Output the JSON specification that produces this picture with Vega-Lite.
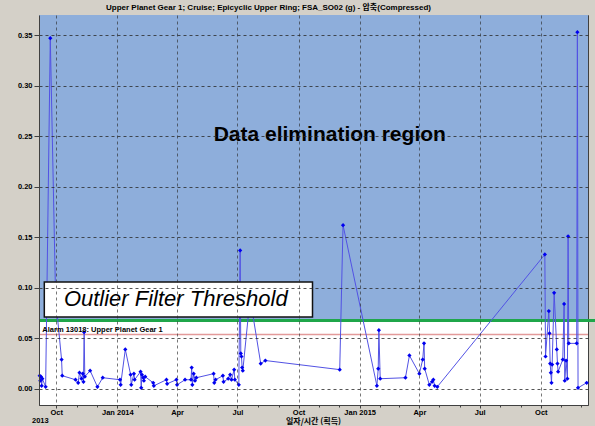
{
  "$schema": "https://vega.github.io/schema/vega-lite/v6.json",
  "width": 549,
  "height": 390,
  "autosize": {"type": "none"},
  "padding": {"left": 39, "top": 15, "right": 7, "bottom": 21},
  "background": "#d4d0c8",
  "title": {
    "text": "Upper Planet Gear 1;   Cruise;   Epicyclic Upper Ring;   FSA_SO02 (g) - 압축(Compressed)",
    "font": "Liberation Sans, Noto Sans CJK KR",
    "fontSize": 8,
    "fontWeight": "bold",
    "color": "#000000",
    "anchor": "middle",
    "dx": -45,
    "offset": 3
  },
  "config": {
    "view": {"fill": "#ffffff", "stroke": "#404040", "strokeWidth": 1},
    "axis": {
      "labelFont": "Liberation Sans",
      "labelFontSize": 7.5,
      "labelFontWeight": "bold",
      "labelColor": "#000000",
      "titleFont": "Noto Sans CJK KR",
      "titleFontSize": 8,
      "titleFontWeight": "bold",
      "titleColor": "#000000",
      "domainColor": "#404040",
      "tickColor": "#404040",
      "gridColor": "#2a2a2a",
      "gridDash": [3, 3],
      "gridWidth": 1,
      "gridOpacity": 0.8,
      "labelOverlap": false
    }
  },
  "datasets": {
    "series": [
      {"t": "2013-09-06", "v": 0.013},
      {"t": "2013-09-07", "v": 0.008},
      {"t": "2013-09-08", "v": 0.012},
      {"t": "2013-09-09", "v": 0.003},
      {"t": "2013-09-10", "v": 0.010},
      {"t": "2013-09-15", "v": 0.002},
      {"t": "2013-09-22", "v": 0.347},
      {"t": "2013-09-30", "v": 0.09},
      {"t": "2013-10-09", "v": 0.029},
      {"t": "2013-10-10", "v": 0.013},
      {"t": "2013-10-30", "v": 0.009},
      {"t": "2013-11-03", "v": 0.006},
      {"t": "2013-11-05", "v": 0.016},
      {"t": "2013-11-08", "v": 0.010},
      {"t": "2013-11-10", "v": 0.015},
      {"t": "2013-11-11", "v": 0.007},
      {"t": "2013-11-12", "v": 0.056},
      {"t": "2013-11-13", "v": 0.012},
      {"t": "2013-11-21", "v": 0.018},
      {"t": "2013-12-02", "v": 0.002},
      {"t": "2013-12-10", "v": 0.011},
      {"t": "2014-01-05", "v": 0.009},
      {"t": "2014-01-06", "v": 0.004},
      {"t": "2014-01-13", "v": 0.039},
      {"t": "2014-01-21", "v": 0.014},
      {"t": "2014-01-22", "v": 0.004},
      {"t": "2014-01-26", "v": 0.015},
      {"t": "2014-01-27", "v": 0.009},
      {"t": "2014-02-05", "v": 0.017},
      {"t": "2014-02-06", "v": 0.001},
      {"t": "2014-02-07", "v": 0.014},
      {"t": "2014-02-09", "v": 0.011},
      {"t": "2014-02-10", "v": 0.008},
      {"t": "2014-02-12", "v": 0.012},
      {"t": "2014-02-24", "v": 0.006},
      {"t": "2014-02-25", "v": 0.003},
      {"t": "2014-03-16", "v": 0.009},
      {"t": "2014-03-17", "v": 0.005},
      {"t": "2014-03-31", "v": 0.009},
      {"t": "2014-04-01", "v": 0.004},
      {"t": "2014-04-13", "v": 0.009},
      {"t": "2014-04-22", "v": 0.009},
      {"t": "2014-04-23", "v": 0.021},
      {"t": "2014-04-24", "v": 0.004},
      {"t": "2014-04-26", "v": 0.015},
      {"t": "2014-04-28", "v": 0.008},
      {"t": "2014-04-30", "v": 0.011},
      {"t": "2014-05-26", "v": 0.015},
      {"t": "2014-05-27", "v": 0.006},
      {"t": "2014-05-29", "v": 0.009},
      {"t": "2014-06-09", "v": 0.013},
      {"t": "2014-06-10", "v": 0.007},
      {"t": "2014-06-17", "v": 0.010},
      {"t": "2014-06-20", "v": 0.014},
      {"t": "2014-06-22", "v": 0.009},
      {"t": "2014-06-26", "v": 0.019},
      {"t": "2014-06-27", "v": 0.009},
      {"t": "2014-07-03", "v": 0.004},
      {"t": "2014-07-05", "v": 0.137},
      {"t": "2014-07-06", "v": 0.035},
      {"t": "2014-07-07", "v": 0.032},
      {"t": "2014-07-08", "v": 0.021},
      {"t": "2014-07-09", "v": 0.018},
      {"t": "2014-07-20", "v": 0.09},
      {"t": "2014-08-05", "v": 0.025},
      {"t": "2014-08-12", "v": 0.028},
      {"t": "2014-12-02", "v": 0.019},
      {"t": "2014-12-07", "v": 0.162},
      {"t": "2015-01-27", "v": 0.003},
      {"t": "2015-01-29", "v": 0.020},
      {"t": "2015-01-30", "v": 0.058},
      {"t": "2015-02-01", "v": 0.010},
      {"t": "2015-03-11", "v": 0.011},
      {"t": "2015-03-17", "v": 0.033},
      {"t": "2015-04-01", "v": 0.015},
      {"t": "2015-04-06", "v": 0.029},
      {"t": "2015-04-08", "v": 0.045},
      {"t": "2015-04-09", "v": 0.020},
      {"t": "2015-04-16", "v": 0.004},
      {"t": "2015-04-20", "v": 0.007},
      {"t": "2015-04-22", "v": 0.009},
      {"t": "2015-04-24", "v": 0.003},
      {"t": "2015-04-28", "v": 0.002},
      {"t": "2015-10-07", "v": 0.133},
      {"t": "2015-10-08", "v": 0.032},
      {"t": "2015-10-13", "v": 0.077},
      {"t": "2015-10-14", "v": 0.055},
      {"t": "2015-10-15", "v": 0.025},
      {"t": "2015-10-16", "v": 0.016},
      {"t": "2015-10-17", "v": 0.006},
      {"t": "2015-10-18", "v": 0.024},
      {"t": "2015-10-21", "v": 0.095},
      {"t": "2015-10-25", "v": 0.039},
      {"t": "2015-10-26", "v": 0.025},
      {"t": "2015-10-27", "v": 0.017},
      {"t": "2015-11-03", "v": 0.029},
      {"t": "2015-11-05", "v": 0.084},
      {"t": "2015-11-06", "v": 0.008},
      {"t": "2015-11-08", "v": 0.028},
      {"t": "2015-11-10", "v": 0.010},
      {"t": "2015-11-11", "v": 0.151},
      {"t": "2015-11-12", "v": 0.045},
      {"t": "2015-11-24", "v": 0.045},
      {"t": "2015-11-25", "v": 0.353},
      {"t": "2015-11-26", "v": 0.001},
      {"t": "2015-12-09", "v": 0.006}
    ]
  },
  "layer": [
    {
      "data": {"name": "series"},
      "mark": {"type": "point", "opacity": 0},
      "encoding": {
        "x": {
          "field": "t",
          "type": "temporal",
          "scale": {"domain": [{"year": 2013, "month": 9, "date": 5}, {"year": 2015, "month": 12, "date": 11}]},
          "title": "일자/시간 (획득)",
          "axis": {
            "zindex": 1,
            "tickCount": {"interval": "month", "step": 1},
            "labelExpr": "month(datum.value) % 3 == 0 ? (month(datum.value) == 0 ? 'Jan ' + year(datum.value) : timeFormat(datum.value, '%b')) : ''",
            "labelOverlap": false,
            "labelFlush": false,
            "labelPadding": 0,
            "titleBaseline": "alphabetic",
            "titleY": 18,
            "titleX": 274,
            "tickSize": {"condition": {"test": "month(datum.value) % 3 == 0", "value": 3}, "value": 2},
            "gridOpacity": {"condition": {"test": "month(datum.value) % 3 == 0", "value": 0.8}, "value": 0}
          }
        },
        "y": {
          "field": "v",
          "type": "quantitative",
          "scale": {"domain": [-0.016, 0.37], "nice": false, "zero": false},
          "title": null,
          "axis": {
            "zindex": 1,
            "values": [0, 0.05, 0.1, 0.15, 0.2, 0.25, 0.3, 0.35],
            "format": ".2f",
            "labelOverlap": false,
            "labelPadding": 2,
            "tickSize": 5
          }
        }
      }
    },
    {
      "data": {"values": [{}]},
      "mark": {"type": "rect", "color": "#8eaedb"},
      "encoding": {
        "x": {"datum": {"year": 2013, "month": 9, "date": 5}, "type": "temporal"},
        "x2": {"datum": {"year": 2015, "month": 12, "date": 11}},
        "y": {"datum": 0.0676, "type": "quantitative"},
        "y2": {"datum": 0.37}
      }
    },
    {
      "data": {"values": [{}]},
      "mark": {"type": "rule", "color": "#e39a9a", "strokeWidth": 1.5},
      "encoding": {"y": {"datum": 0.0537, "type": "quantitative"}}
    },
    {
      "data": {"values": [{}]},
      "mark": {"type": "rule", "color": "#1fa64a", "strokeWidth": 3},
      "encoding": {
        "y": {"datum": 0.0676, "type": "quantitative"},
        "x": {"datum": {"year": 2013, "month": 9, "date": 5}, "type": "temporal"},
        "x2": {"datum": {"year": 2015, "month": 12, "date": 22}}
      }
    },
    {
      "data": {"name": "series"},
      "mark": {
        "type": "line",
        "color": "#5252e4",
        "strokeWidth": 1,
        "point": {"shape": "diamond", "filled": true, "size": 18, "color": "#0000f0"}
      },
      "encoding": {
        "x": {"field": "t", "type": "temporal"},
        "y": {"field": "v", "type": "quantitative"}
      }
    },
    {
      "data": {"values": [{}]},
      "mark": {"type": "text", "text": "Alarm 13018: Upper Planet Gear 1", "align": "left", "baseline": "middle", "font": "Liberation Sans", "fontSize": 7.5, "fontWeight": "bold", "color": "#000000"},
      "encoding": {
        "x": {"datum": {"year": 2013, "month": 9, "date": 10}, "type": "temporal"},
        "y": {"datum": 0.0585, "type": "quantitative"}
      }
    },
    {
      "data": {"values": [{}]},
      "mark": {"type": "rect", "fill": "#ffffff", "stroke": "#111111", "strokeWidth": 1.5},
      "encoding": {
        "x": {"datum": {"year": 2013, "month": 9, "date": 13}, "type": "temporal"},
        "x2": {"datum": {"year": 2014, "month": 10, "date": 22}},
        "y": {"datum": 0.0712, "type": "quantitative"},
        "y2": {"datum": 0.1058}
      }
    },
    {
      "data": {"values": [{}]},
      "mark": {"type": "text", "text": "Outlier Filter Threshold", "align": "center", "baseline": "middle", "font": "Liberation Sans", "fontSize": 22, "fontStyle": "italic", "color": "#000000"},
      "encoding": {
        "x": {"datum": {"year": 2014, "month": 3, "date": 30}, "type": "temporal"},
        "y": {"datum": 0.0885, "type": "quantitative"}
      }
    },
    {
      "data": {"values": [{}]},
      "mark": {"type": "text", "text": "Data elimination region", "align": "center", "baseline": "middle", "font": "Liberation Sans", "fontSize": 21, "fontWeight": "bold", "color": "#000000"},
      "encoding": {
        "x": {"datum": {"year": 2014, "month": 11, "date": 17}, "type": "temporal"},
        "y": {"datum": 0.251, "type": "quantitative"}
      }
    },
    {
      "data": {"values": [{}]},
      "mark": {"type": "text", "text": "2013", "align": "center", "baseline": "middle", "font": "Liberation Sans", "fontSize": 7.5, "fontWeight": "bold", "color": "#000000"},
      "encoding": {
        "x": {"datum": {"year": 2013, "month": 9, "date": 7}, "type": "temporal"},
        "y": {"datum": -0.0315, "type": "quantitative"}
      }
    }
  ]
}
